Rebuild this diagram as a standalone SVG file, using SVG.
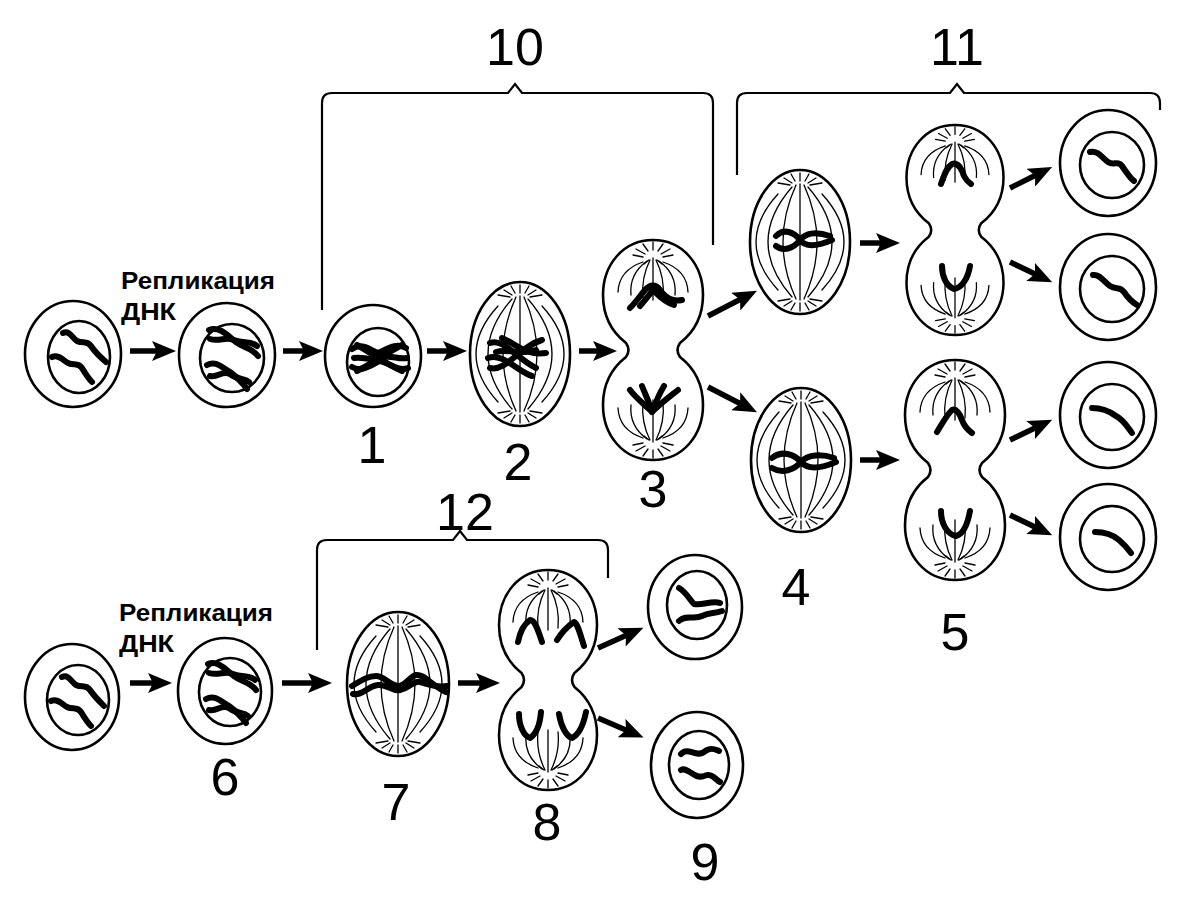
<svg xmlns="http://www.w3.org/2000/svg" xmlns:xlink="http://www.w3.org/1999/xlink" width="1200" height="900" viewBox="0 0 1200 900">
<style>
.cell{fill:none;stroke:#000;stroke-width:2.6}
.chr{fill:none;stroke:#000;stroke-width:6;stroke-linecap:round;stroke-linejoin:round}
.fib{fill:none;stroke:#000;stroke-width:1.3;stroke-linecap:round}
.br{fill:none;stroke:#000;stroke-width:2.2}
.arr{stroke:#000;stroke-width:5.5;fill:none;marker-end:url(#ah)}
.num{font-family:"Liberation Sans",Arial,sans-serif;font-size:52px;fill:#000;text-anchor:middle}
.lbl{font-family:"Liberation Sans",Arial,sans-serif;font-size:24px;font-weight:bold;fill:#000}
</style>
<defs>
<marker id="ah" markerUnits="userSpaceOnUse" markerWidth="26" markerHeight="20" refX="6" refY="10" orient="auto">
<path d="M0,0 L24,10 L0,20 L5,10 Z" fill="#000"/>
</marker>
<path id="dumb" class="cell" d="M0,-110 C30,-110 50,-85 50,-55 C50,-28 36,-14 27,-7 Q22,0 27,7 C36,14 50,28 50,55 C50,85 30,110 0,110 C-30,110 -50,85 -50,55 C-50,28 -36,14 -27,7 Q-22,0 -27,-7 C-36,-14 -50,-28 -50,-55 C-50,-85 -30,-110 0,-110 Z"/>
<g id="aster">
<path class="fib" d="M0,-100 L0,-108 M-5,-99 L-10,-106 M5,-99 L10,-106 M-8,-96 L-17,-101 M8,-96 L17,-101 M-10,-93 L-20,-95 M10,-93 L20,-95 M-4,-90 L-9,-86 M4,-90 L9,-86"/>
<path class="fib" d="M0,-92 L0,-50 M-3,-90 Q-12,-72 -10,-52 M3,-90 Q12,-72 10,-52 M-6,-89 Q-24,-76 -22,-55 M6,-89 Q24,-76 22,-55 M-10,-88 Q-34,-80 -35,-58 M10,-88 Q34,-80 35,-58"/>
</g>
<g id="spindle">
<path class="fib" d="M0,-58 L0,58 M-4,-57 Q-30,0 -4,57 M4,-57 Q30,0 4,57 M-8,-55 Q-56,0 -8,55 M8,-55 Q56,0 8,55 M-22,-48 Q-66,0 -22,48 M22,-48 Q66,0 22,48"/>
<path class="fib" d="M0,-61 L0,-69 M-5,-61 L-9,-68 M5,-61 L9,-68 M-8,-59 L-16,-64 M8,-59 L16,-64 M-10,-57 L-22,-59 M10,-57 L22,-59"/>
<path class="fib" d="M0,61 L0,69 M-5,61 L-9,68 M5,61 L9,68 M-8,59 L-16,64 M8,59 L16,64 M-10,57 L-22,59 M10,57 L22,59"/>
</g>
</defs>

<g id="labels">
<text class="lbl" x="121" y="289" textLength="154" lengthAdjust="spacingAndGlyphs">Репликация</text>
<text class="lbl" x="121" y="320" textLength="55" lengthAdjust="spacingAndGlyphs">ДНК</text>
<text class="lbl" x="119" y="621" textLength="154" lengthAdjust="spacingAndGlyphs">Репликация</text>
<text class="lbl" x="119" y="652" textLength="55" lengthAdjust="spacingAndGlyphs">ДНК</text>
<text class="num" x="515" y="65">10</text>
<text class="num" x="957" y="65">11</text>
<text class="num" x="465" y="530">12</text>
<text class="num" x="372" y="463">1</text>
<text class="num" x="518" y="480">2</text>
<text class="num" x="653" y="507">3</text>
<text class="num" x="796" y="605">4</text>
<text class="num" x="955" y="650">5</text>
<text class="num" x="225" y="795">6</text>
<text class="num" x="396" y="820">7</text>
<text class="num" x="547" y="840">8</text>
<text class="num" x="705" y="880">9</text>
</g>

<g id="brackets">
<path class="br" d="M322,310 L322,103 Q322,93 332,93 L508,93 L515,84 L522,93 L703,93 Q713,93 713,103 L713,245"/>
<path class="br" d="M737,175 L737,103 Q737,93 747,93 L950,93 L957,84 L964,93 L1150,93 Q1160,93 1160,103 L1160,110"/>
<path class="br" d="M317,650 L317,550 Q317,540 327,540 L453,540 L460,531 L467,540 L598,540 Q608,540 608,550 L608,578"/>
</g>

<g id="connectors">
<line class="arr" x1="130" y1="351" x2="158" y2="351"/>
<line class="arr" x1="283" y1="351" x2="305" y2="351"/>
<line class="arr" x1="427" y1="351" x2="449" y2="351"/>
<line class="arr" x1="579" y1="351" x2="599" y2="351"/>
<line class="arr" x1="708" y1="316" x2="741" y2="299"/>
<line class="arr" x1="708" y1="387" x2="741" y2="404"/>
<line class="arr" x1="860" y1="243" x2="882" y2="243"/>
<line class="arr" x1="860" y1="460" x2="882" y2="460"/>
<line class="arr" x1="1010" y1="188" x2="1036" y2="175"/>
<line class="arr" x1="1010" y1="262" x2="1036" y2="274.5"/>
<line class="arr" x1="1010" y1="440" x2="1036" y2="427.5"/>
<line class="arr" x1="1010" y1="515" x2="1036" y2="527.5"/>
<line class="arr" x1="130" y1="683" x2="154" y2="683"/>
<line class="arr" x1="282" y1="683" x2="314" y2="683"/>
<line class="arr" x1="458" y1="683" x2="482" y2="683"/>
<line class="arr" x1="598" y1="648" x2="627" y2="635"/>
<line class="arr" x1="598" y1="718" x2="627" y2="730.5"/>
</g>

<g id="cellA">
<ellipse class="cell" cx="73" cy="354" rx="48" ry="53"/>
<ellipse class="cell" cx="79" cy="357" rx="31" ry="36"/>
<path class="chr" d="M63,333 C70,330 72,338 77,341 C83,344 87,340 91,346 C95,352 99,356 106,362"/>
<path class="chr" d="M52,357 C58,354 63,360 68,363 C74,366 78,362 82,368 C85,373 88,378 92,382"/>
</g>

<g id="cellB">
<ellipse class="cell" cx="227" cy="355" rx="48" ry="52"/>
<ellipse class="cell" cx="232" cy="358" rx="32" ry="34"/>
<path class="chr" d="M209,330 C220,326 228,336 236,342 C244,348 252,348 258,356"/>
<path class="chr" d="M210,339 C220,342 226,336 234,340 C244,344 250,340 257,346"/>
<path class="chr" d="M207,365 C216,360 222,368 230,372 C238,378 242,382 247,389"/>
<path class="chr" d="M210,376 C218,378 222,370 230,374 C238,380 244,378 249,382"/>
</g>

<g id="cell1">
<ellipse class="cell" cx="373" cy="356" rx="48" ry="51"/>
<ellipse class="cell" cx="378" cy="362" rx="31" ry="34"/>
<path class="chr" d="M352,349 C362,342 370,350 378,353 C386,350 396,342 406,348"/>
<path class="chr" d="M352,367 C362,373 372,364 380,361 C390,363 398,372 408,368"/>
<path class="chr" d="M357,345 C370,352 386,364 402,371"/>
<path class="chr" d="M357,371 C372,364 388,352 402,345"/>
<path class="chr" d="M354,358 C364,356 372,362 380,358 C390,354 398,360 407,358"/>
</g>

<g id="cell2">
<ellipse class="cell" cx="520" cy="354" rx="50" ry="72"/>
<use xlink:href="#spindle" href="#spindle" transform="translate(520,354)"/>
<path class="chr" d="M490,343 C504,338 516,358 536,368"/>
<path class="chr" d="M490,368 C506,372 520,346 542,340"/>
<path class="chr" d="M502,338 C516,344 526,356 546,353"/>
<path class="chr" d="M488,358 C502,352 518,372 532,376"/>
<path class="chr" d="M496,352 C508,348 520,356 536,350"/>
</g>

<g id="cell3">
<use xlink:href="#dumb" href="#dumb" transform="translate(653,350)"/>
<use xlink:href="#aster" href="#aster" transform="translate(653,350)"/>
<use xlink:href="#aster" href="#aster" transform="translate(653,350) scale(1,-1)"/>
<path class="chr" d="M630,308 C636,302 640,296 645,290 C650,284 656,284 660,290 C666,298 672,302 682,300"/>
<path class="chr" d="M640,306 C646,299 650,294 653,290 C658,295 664,302 674,305"/>
<path class="chr" d="M630,390 C636,398 644,404 652,412 C660,404 668,398 678,390"/>
<path class="chr" d="M642,386 C646,396 650,404 652,412 C655,404 658,396 664,386"/>
</g>

<g id="cell4a">
<ellipse class="cell" cx="800" cy="242" rx="50" ry="72"/>
<use xlink:href="#spindle" href="#spindle" transform="translate(800,242)"/>
<path class="chr" d="M776,236 C784,228 794,232 800,240 C806,248 818,246 832,240"/>
<path class="chr" d="M776,246 C784,252 794,248 800,240 C806,232 818,232 830,236"/>
</g>

<g id="cell4b">
<ellipse class="cell" cx="801" cy="460" rx="50" ry="72"/>
<use xlink:href="#spindle" href="#spindle" transform="translate(801,460)"/>
<path class="chr" d="M772,458 C782,450 794,454 801,462 C808,470 822,468 836,462"/>
<path class="chr" d="M772,468 C782,474 794,470 801,462 C808,454 822,454 834,458"/>
</g>

<g id="cell5a">
<use xlink:href="#dumb" href="#dumb" transform="translate(955,230) scale(0.97,0.955)"/>
<use xlink:href="#aster" href="#aster" transform="translate(955,230) scale(0.97,0.955)"/>
<use xlink:href="#aster" href="#aster" transform="translate(955,230) scale(0.97,-0.955)"/>
<path class="chr" d="M941,184 C944,176 946,168 952,164 C958,162 962,170 964,176 C966,180 968,182 971,184"/>
<path class="chr" d="M942,266 C942,276 946,286 954,289 C962,288 968,278 970,266"/>
</g>

<g id="cell5b">
<use xlink:href="#dumb" href="#dumb" transform="translate(955,470)"/>
<use xlink:href="#aster" href="#aster" transform="translate(955,470)"/>
<use xlink:href="#aster" href="#aster" transform="translate(955,470) scale(1,-1)"/>
<path class="chr" d="M937,432 C942,424 946,416 952,410 C956,408 960,414 962,420 C964,426 968,430 972,433"/>
<path class="chr" d="M941,511 C941,522 946,534 956,536 C964,534 968,522 970,511"/>
</g>

<g id="cell6a">
<ellipse class="cell" cx="1108" cy="163" rx="48" ry="53"/>
<ellipse class="cell" cx="1112" cy="165" rx="32" ry="33"/>
<path class="chr" d="M1090,152 C1098,150 1102,158 1108,162 C1114,166 1118,160 1122,166 C1126,172 1130,178 1134,181"/>
</g>
<g id="cell6b">
<ellipse class="cell" cx="1108" cy="287" rx="48" ry="53"/>
<ellipse class="cell" cx="1112" cy="289" rx="32" ry="33"/>
<path class="chr" d="M1093,275 C1100,274 1104,282 1110,286 C1116,290 1120,286 1124,292 C1128,298 1132,302 1137,305"/>
</g>
<g id="cell6c">
<ellipse class="cell" cx="1108" cy="415" rx="48" ry="53"/>
<ellipse class="cell" cx="1112" cy="417" rx="32" ry="33"/>
<path class="chr" d="M1092,408 C1100,408 1108,410 1116,416 C1124,420 1128,428 1132,433"/>
</g>
<g id="cell6d">
<ellipse class="cell" cx="1108" cy="537" rx="48" ry="53"/>
<ellipse class="cell" cx="1112" cy="539" rx="32" ry="33"/>
<path class="chr" d="M1095,532 C1104,532 1112,534 1119,540 C1125,545 1128,549 1131,553"/>
</g>

<g id="cellC">
<ellipse class="cell" cx="72" cy="697" rx="47" ry="53"/>
<ellipse class="cell" cx="78" cy="700" rx="31" ry="35"/>
<path class="chr" d="M62,677 C69,674 71,682 76,685 C82,688 86,684 90,690 C94,696 98,700 104,706"/>
<path class="chr" d="M51,701 C57,698 62,704 67,707 C73,710 77,706 81,712 C84,717 87,722 91,726"/>
</g>

<g id="cell6">
<ellipse class="cell" cx="225" cy="691" rx="47" ry="53"/>
<ellipse class="cell" cx="230" cy="692" rx="31" ry="34"/>
<path class="chr" d="M208,664 C218,660 226,670 234,676 C242,682 250,682 256,690"/>
<path class="chr" d="M209,673 C219,676 225,670 233,674 C243,678 249,674 255,680"/>
<path class="chr" d="M206,699 C215,694 221,702 229,706 C237,712 241,716 246,723"/>
<path class="chr" d="M209,710 C217,712 221,704 229,708 C237,714 243,712 248,716"/>
</g>

<g id="cell7">
<ellipse class="cell" cx="398" cy="684" rx="51" ry="72"/>
<use xlink:href="#spindle" href="#spindle" transform="translate(398,684)"/>
<path class="chr" d="M352,686 C362,680 368,676 376,676 C384,676 388,684 398,686 C406,686 410,676 416,675 C424,674 430,684 446,692"/>
<path class="chr" d="M353,694 C362,696 368,686 378,685 C388,684 392,692 400,690 C410,688 414,680 420,682 C428,684 436,688 447,686"/>
</g>

<g id="cell8">
<use xlink:href="#dumb" href="#dumb" transform="translate(548,680) scale(0.98,1)"/>
<use xlink:href="#aster" href="#aster" transform="translate(548,680)"/>
<use xlink:href="#aster" href="#aster" transform="translate(548,680) scale(1,-1)"/>
<path class="chr" d="M518,642 C520,632 524,624 530,620 C535,620 538,630 542,642"/>
<path class="chr" d="M557,640 C562,632 568,626 574,622 C578,624 580,634 584,646"/>
<path class="chr" d="M519,714 C519,726 524,736 530,738 C536,734 540,724 541,712"/>
<path class="chr" d="M559,714 C561,726 566,736 572,738 C580,734 584,722 586,712"/>
</g>

<g id="cell9a">
<ellipse class="cell" cx="695" cy="607" rx="47" ry="52"/>
<ellipse class="cell" cx="697" cy="605" rx="30" ry="34"/>
<path class="chr" d="M679,588 C686,592 690,600 694,604 C702,606 712,600 720,603"/>
<path class="chr" d="M679,621 C686,614 694,620 702,616 C710,612 714,614 722,611"/>
</g>
<g id="cell9b">
<ellipse class="cell" cx="697" cy="765" rx="46" ry="53"/>
<ellipse class="cell" cx="699" cy="765" rx="30" ry="34"/>
<path class="chr" d="M681,754 C688,746 696,758 704,752 C711,746 716,750 719,751"/>
<path class="chr" d="M681,770 C688,766 694,780 704,776 C711,772 716,780 720,782"/>
</g>
</svg>
